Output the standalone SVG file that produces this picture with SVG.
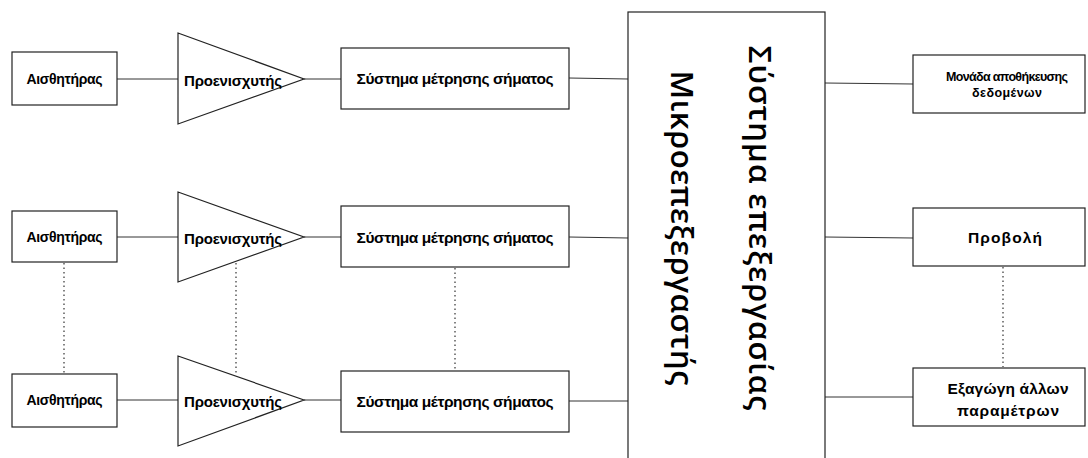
<svg xmlns="http://www.w3.org/2000/svg" width="1088" height="458" viewBox="0 0 1088 458">
<style>
.box{fill:#fff;stroke:#222;stroke-width:1.2}
.ln{stroke:#333;stroke-width:1;fill:none}
.dot{stroke:#333;stroke-width:1.2;fill:none;stroke-dasharray:1.5 3}
.t{font-family:"Liberation Sans",Arial,sans-serif;font-weight:bold;fill:#000;text-anchor:middle;dominant-baseline:central}
.big{font-family:"Open Sans","Noto Sans",sans-serif;font-size:31px;font-weight:600;fill:#000;text-anchor:middle;dominant-baseline:central}
</style>
<rect width="1088" height="458" fill="#fff"/>
<g id="connectors">
<line class="ln" x1="117" y1="79" x2="178" y2="79"/>
<line class="ln" x1="304" y1="79" x2="341" y2="79"/>
<line class="ln" x1="569" y1="78" x2="628" y2="79"/>
<line class="ln" x1="117" y1="237" x2="178" y2="237"/>
<line class="ln" x1="304" y1="237" x2="341" y2="237"/>
<line class="ln" x1="569" y1="237" x2="628" y2="238"/>
<line class="ln" x1="117" y1="400" x2="178" y2="400"/>
<line class="ln" x1="304" y1="400" x2="341" y2="400"/>
<line class="ln" x1="569" y1="401" x2="628" y2="401"/>
<line class="ln" x1="825" y1="83" x2="913" y2="84"/>
<line class="ln" x1="825" y1="237" x2="913" y2="238"/>
<line class="ln" x1="825" y1="397" x2="913" y2="397"/>
<line class="dot" x1="64" y1="263" x2="64" y2="373"/>
<line class="dot" x1="236" y1="263" x2="236" y2="373"/>
<line class="dot" x1="455" y1="268" x2="455" y2="370"/>
<line class="dot" x1="1003" y1="267" x2="1003" y2="367"/>
</g>
<g id="sensor1"><rect class="box" x="12" y="52" width="105" height="53"/><text class="t" x="64.5" y="79" font-size="14" textLength="76">Αισθητήρας</text></g>
<g id="sensor2"><rect class="box" x="12" y="211" width="105" height="51"/><text class="t" x="64.5" y="237" font-size="14" textLength="76">Αισθητήρας</text></g>
<g id="sensor3"><rect class="box" x="12" y="374" width="105" height="53"/><text class="t" x="64.5" y="400" font-size="14" textLength="76">Αισθητήρας</text></g>
<g id="amp1"><polygon class="box" points="178,33 304,79 178,124"/><text class="t" x="233" y="80" font-size="15" textLength="98">Προενισχυτής</text></g>
<g id="amp2"><polygon class="box" points="178,192 304,237 178,282"/><text class="t" x="233" y="238" font-size="15" textLength="98">Προενισχυτής</text></g>
<g id="amp3"><polygon class="box" points="178,356 304,400 178,446"/><text class="t" x="233" y="401" font-size="15" textLength="98">Προενισχυτής</text></g>
<g id="meas1"><rect class="box" x="341" y="48" width="228" height="61"/><text class="t" x="455" y="78" font-size="15.5" textLength="197">Σύστημα μέτρησης σήματος</text></g>
<g id="meas2"><rect class="box" x="341" y="206" width="228" height="61"/><text class="t" x="455" y="237" font-size="15.5" textLength="197">Σύστημα μέτρησης σήματος</text></g>
<g id="meas3"><rect class="box" x="341" y="371" width="228" height="61"/><text class="t" x="455" y="401" font-size="15.5" textLength="197">Σύστημα μέτρησης σήματος</text></g>
<g id="mcu">
<rect class="box" x="628" y="12" width="197" height="470" stroke-width="1.5"/>
<text class="big" transform="translate(683,228) rotate(90)" textLength="315">Μικροεπεξεργαστής</text>
<text class="big" transform="translate(761,228) rotate(90)" textLength="365">Σύστημα επεξεργασίας</text>
</g>
<g id="storage"><rect class="box" x="913" y="55" width="172" height="58"/><text class="t" x="1007" y="77" font-size="12.5" textLength="122">Μονάδα αποθήκευσης</text><text class="t" x="1007" y="93" font-size="12.5" textLength="70">δεδομένων</text></g>
<g id="display"><rect class="box" x="913" y="208" width="172" height="58"/><text class="t" x="1005" y="237" font-size="15.5" textLength="74">Προβολή</text></g>
<g id="export"><rect class="box" x="913" y="368" width="172" height="58"/><text class="t" x="1008" y="388" font-size="15.5" textLength="121">Εξαγώγη άλλων</text><text class="t" x="1008" y="410" font-size="15.5" textLength="102">παραμέτρων</text></g>
</svg>
